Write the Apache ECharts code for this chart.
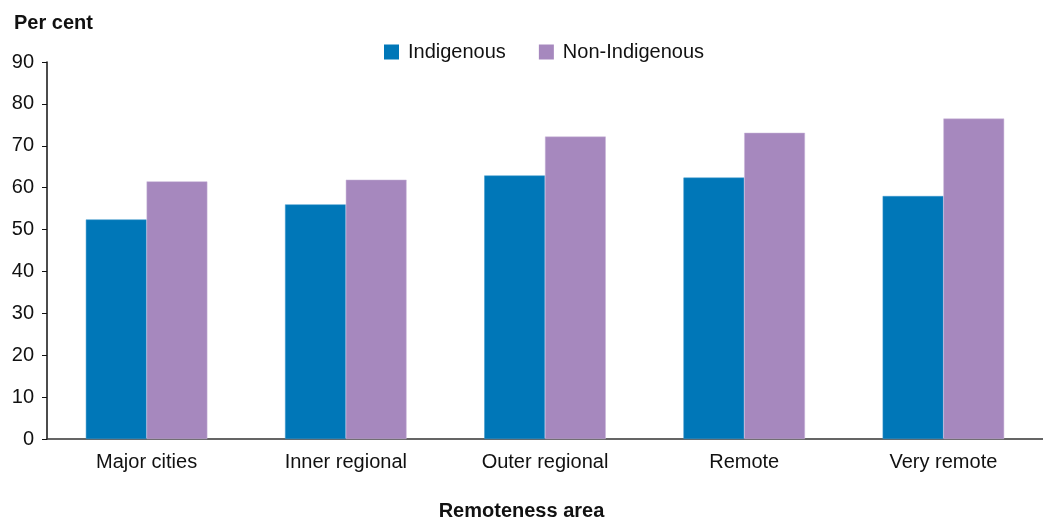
<!DOCTYPE html>
<html><head><meta charset="utf-8">
<script src="https://cdn.jsdelivr.net/npm/echarts@6/dist/echarts.min.js"></script>
<style>html,body{margin:0;padding:0;background:#fff}#c{width:1043px;height:519px}</style>
</head><body><div id="c"></div>
<script>
const categories = ['Major cities', 'Inner regional', 'Outer regional', 'Remote', 'Very remote'];
const indigenous = [52.4, 56.0, 62.9, 62.4, 58.0];
const nonIndigenous = [61.5, 61.9, 72.2, 73.1, 76.5];
const seriesNames = ['Indigenous', 'Non-Indigenous'];
const yTitle = 'Per cent';
const xTitle = 'Remoteness area';

const font = 'Liberation Sans, Arial, sans-serif';
const chart = echarts.init(document.getElementById('c'));
chart.setOption({
  animation: false,
  textStyle: { fontFamily: font },
  grid: { left: 47, right: 0, top: 62, bottom: 80 },
  legend: {
    top: 42, left: 384, padding: 0, itemWidth: 15, itemHeight: 15, itemGap: 33, icon: 'rect',
    itemStyle: { borderWidth: 0 },
    textStyle: { fontSize: 20, color: '#111', fontFamily: font, padding: [0, 0, 0, 4] },
    data: seriesNames
  },
  graphic: [
    { type: 'text', left: 14, top: 13, style: { text: yTitle, font: 'bold 20px ' + font, fill: '#111' } },
    { type: 'text', left: 'center', top: 501, style: { text: xTitle, font: 'bold 20px ' + font, fill: '#111' } }
  ],
  xAxis: {
    type: 'category', data: categories,
    axisLine: { lineStyle: { color: '#333', width: 1.5 } },
    axisTick: { show: false },
    axisLabel: { fontSize: 20, color: '#111', margin: 13, fontFamily: font }
  },
  yAxis: {
    type: 'value', min: 0, max: 90, interval: 10,
    axisLine: { show: true, lineStyle: { color: '#111', width: 1.5 } },
    axisTick: { show: true, length: 5, lineStyle: { color: '#111' } },
    splitLine: { show: false },
    axisLabel: { fontSize: 20, color: '#111', margin: 13, fontFamily: font }
  },
  series: [
    { name: seriesNames[0], type: 'bar', data: indigenous, barGap: '0%', barCategoryGap: '39%',
      itemStyle: { color: '#0077B8', borderColor: '#3a97cc', borderWidth: 0.5 } },
    { name: seriesNames[1], type: 'bar', data: nonIndigenous,
      itemStyle: { color: '#A688BE', borderColor: '#c9b5d9', borderWidth: 0.5 } }
  ]
});
</script></body></html>
